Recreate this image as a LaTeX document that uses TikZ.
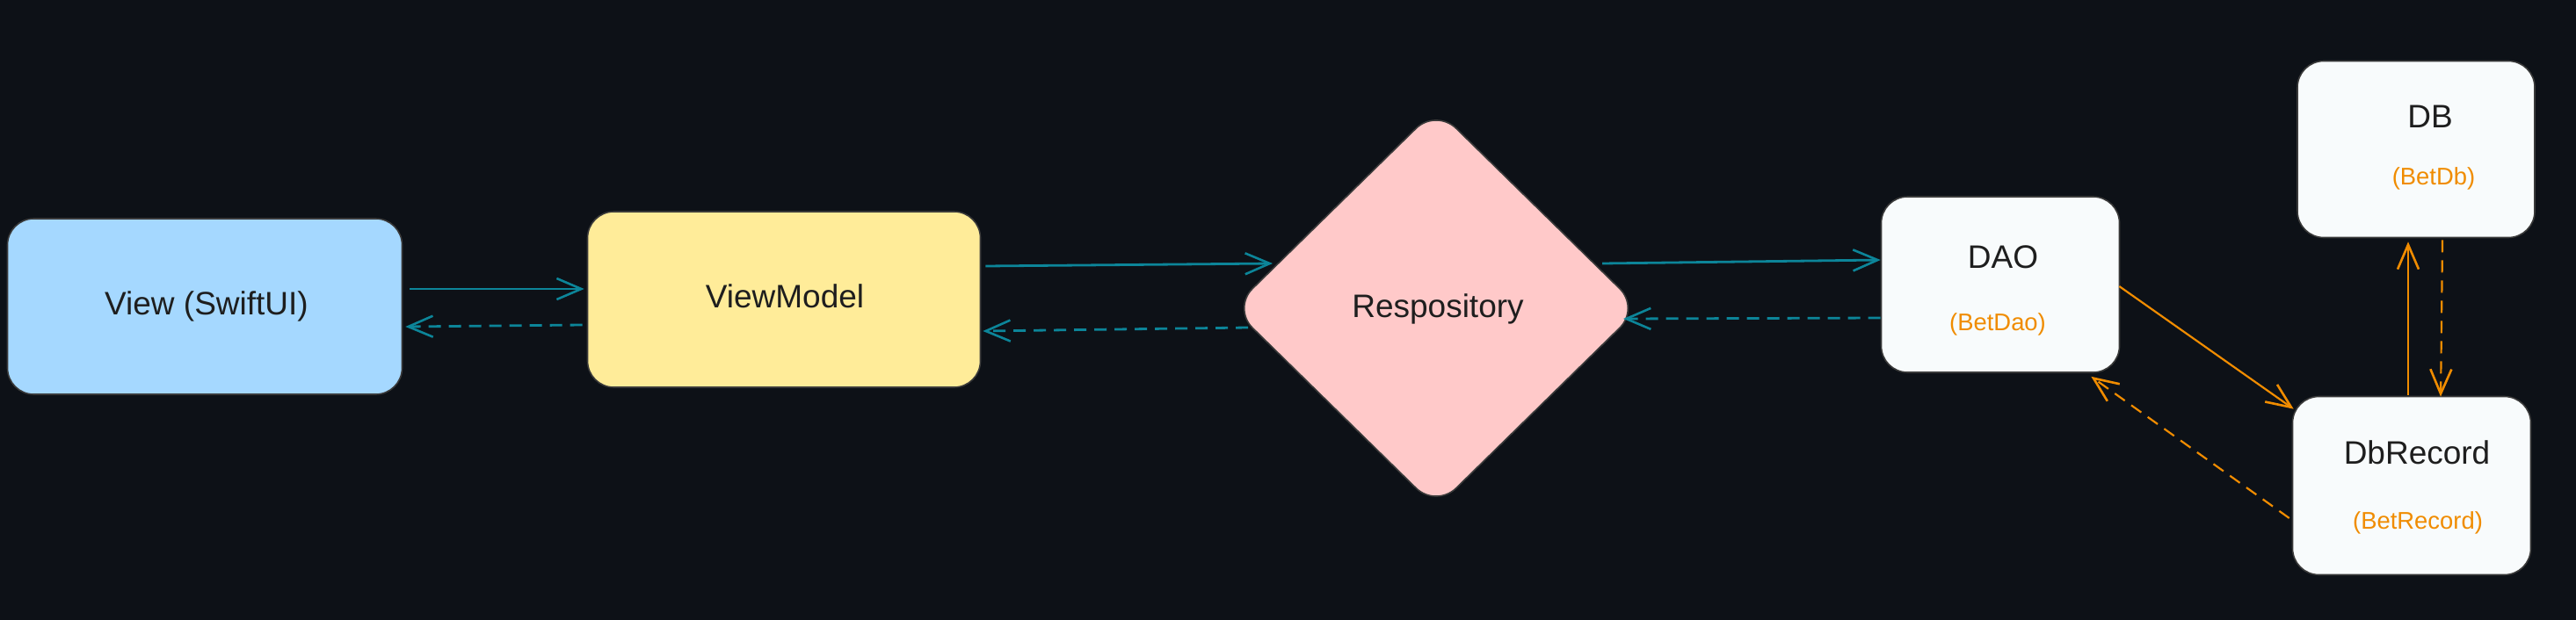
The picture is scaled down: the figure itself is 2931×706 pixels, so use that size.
\documentclass[tikz,border=0pt]{standalone}
\usepackage{fontspec}
\setmainfont{Liberation Sans}
\usetikzlibrary{shapes.geometric,arrows.meta}
\definecolor{bg}{HTML}{0D1117}
\definecolor{teal}{HTML}{0C8599}
\definecolor{orng}{HTML}{F08C00}
\definecolor{ink}{HTML}{1E1E1E}
\definecolor{edge}{HTML}{3A3A3A}
\definecolor{viewfill}{HTML}{A5D8FF}
\definecolor{vmfill}{HTML}{FFEC99}
\definecolor{repofill}{HTML}{FFC9C9}
\definecolor{whitefill}{HTML}{F8FBFC}
\tikzset{
  box/.style={draw=edge, line width=0.8pt, rounded corners=15pt, inner sep=0pt},
  maintext/.style={anchor=base, inner sep=0pt, text=ink, font=\fontsize{18.5}{21}\selectfont},
  subtext/.style={anchor=base, inner sep=0pt, text=orng, font=\fontsize{13.7}{16}\selectfont},
  conn/.style={line width=1.4pt, -{Straight Barb[length=14pt,width=12pt,line width=1.3pt]}},
  tealline/.style={conn, draw=teal},
  orangeline/.style={conn, draw=orng, line width=1.1pt},
  dashline/.style={dash pattern=on 7pt off 4.5pt},
}
\begin{document}
\begin{tikzpicture}[x=0.5pt,y=-0.5pt]
\fill[bg] (0,0) rectangle (2931,706);
\useasboundingbox (0,0) rectangle (2931,706);

% nodes
\node[box, fill=viewfill, minimum width=224.5pt, minimum height=100pt] (view) at (233,349) {};
\node[box, fill=vmfill, minimum width=223.5pt, minimum height=100pt] (vm) at (892,341) {};
\node[draw=edge, line width=0.8pt, diamond, fill=repofill, rounded corners=16pt, inner sep=0pt,
      minimum width=232pt, minimum height=227.5pt] (repo) at (1634,351) {};
\node[box, fill=whitefill, minimum width=135.5pt, minimum height=100pt] (dao) at (2276,324) {};
\node[box, fill=whitefill, minimum width=135pt, minimum height=100.5pt] (db) at (2749,170) {};
\node[box, fill=whitefill, minimum width=135.5pt, minimum height=101.5pt] (dbrec) at (2744,553) {};

% texts
\node[maintext] (viewT) at (235,358) {View (SwiftUI)};
\node[maintext] (vmT) at (893,350) {ViewModel};
\node[maintext] (repoT) at (1636,361) {Respository};
\node[maintext] (daoT) at (2279,305) {DAO};
\node[subtext] (daoS) at (2273,376) {(BetDao)};
\node[maintext] (dbT) at (2765,145) {DB};
\node[subtext] (dbS) at (2769,210) {(BetDb)};
\node[maintext] (dbrecT) at (2750,528) {DbRecord};
\node[subtext] (dbrecS) at (2751,602) {(BetRecord)};

% teal connectors
\draw[tealline] ([shift={(8,-20)}]view.east) -- ([shift={(-3,-12)}]vm.west);
\draw[tealline, dashline] ([shift={(-5,29)}]vm.west) -- ([shift={(3,23)}]view.east);
\draw[tealline] ([shift={(5,-38)}]vm.east) -- ([shift={(-186,-51)}]repo.center);
\draw[tealline, dashline] ([shift={(-214,22)}]repo.center) -- ([shift={(2,36)}]vm.east);
\draw[tealline] ([shift={(189,-51)}]repo.center) -- ([shift={(0,-28)}]dao.west);
\draw[tealline, dashline] ([shift={(0,38)}]dao.west) -- ([shift={(213,12)}]repo.center);

% orange connectors
\draw[orangeline] ([shift={(-1,2)}]dao.east) -- ([shift={(2,15)}]dbrec.north west);
\draw[orangeline, dashline] ([shift={(-3,37)}]dbrec.west) -- ([shift={(-33,4)}]dao.south east);
\draw[orangeline] ([shift={(-4,-1)}]dbrec.north) -- ([shift={(-9,4)}]db.south);
\draw[orangeline, dashline] ([shift={(30,2)}]db.south) -- ([shift={(33,1)}]dbrec.north);
\end{tikzpicture}
\end{document}
